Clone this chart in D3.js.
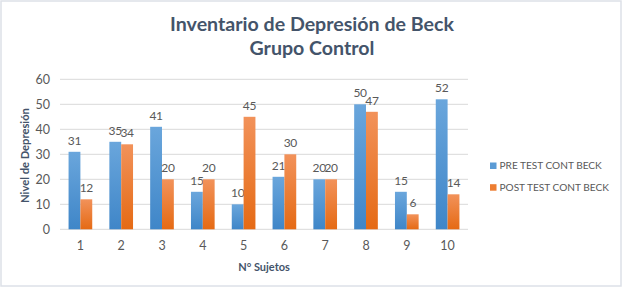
<!DOCTYPE html>
<html>
<head>
<meta charset="utf-8">
<script src="https://cdn.jsdelivr.net/npm/d3@7"></script>
<style>
  body { margin: 0; background: #fff; }
  text { font-family: Lato, "Liberation Sans", sans-serif; }
</style>
</head>
<body>
<svg id="chart"></svg>
<script>
// data
var sujetos = ['1', '2', '3', '4', '5', '6', '7', '8', '9', '10']
var preTest = [31, 35, 41, 15, 10, 21, 20, 50, 15, 52]
var postTest = [12, 34, 20, 20, 45, 30, 20, 47, 6, 14]
var seriesNames = ['PRE TEST CONT BECK', 'POST TEST CONT BECK']
var yTicks = [0, 10, 20, 30, 40, 50, 60]

var width = 623, height = 288
var plot = {left: 60, right: 468, top: 79.3, bottom: 229.3}

var svg = d3.select('#chart').attr('width', width).attr('height', height)

// gradients like the office-style bars
var defs = svg.append('defs')
var grads = [
  {id: 'gBlue', top: '#6aa6dc', bot: '#3f86c8'},
  {id: 'gOrange', top: '#f2925a', bot: '#e56a14'}
]
grads.forEach(g => {
  var lg = defs.append('linearGradient').attr('id', g.id)
    .attr('x1', 0).attr('y1', 0).attr('x2', 0).attr('y2', 1)
  lg.append('stop').attr('offset', '0%').attr('stop-color', g.top)
  lg.append('stop').attr('offset', '100%').attr('stop-color', g.bot)
})

// frame
svg.append('rect')
  .attr('x', 1).attr('y', 1).attr('width', width - 3).attr('height', height - 3)
  .attr('fill', '#fff').attr('stroke', '#dde1e8').attr('stroke-width', 1.5)

var x = d3.scaleBand().domain(sujetos)
  .range([plot.left, plot.right])
  .paddingInner(0.42).paddingOuter(0.21)
var xs = d3.scaleBand().domain([0, 1]).range([0, x.bandwidth()])
var y = d3.scaleLinear().domain([0, 60]).range([plot.bottom, plot.top])

// grid lines
svg.append('g')
  .selectAll('line').data(yTicks).join('line')
  .attr('x1', plot.left).attr('x2', plot.right)
  .attr('y1', d => y(d)).attr('y2', d => y(d))
  .attr('stroke', '#d9d9d9').attr('stroke-width', 1)

// y axis labels
var yAxis = svg.append('g')
  .attr('transform', 'translate(' + (plot.left - 10) + ',0)')
  .call(d3.axisLeft(y).tickValues(yTicks).tickSize(0).tickPadding(0))
yAxis.select('.domain').remove()
yAxis.selectAll('text').attr('fill', '#595959').style('font-size', '12.5px')

// x axis labels
var xAxis = svg.append('g')
  .attr('transform', 'translate(0,' + (plot.bottom + 12) + ')')
  .call(d3.axisBottom(x).tickSize(0).tickPadding(0))
xAxis.select('.domain').remove()
xAxis.selectAll('text').attr('fill', '#595959').style('font-size', '12.5px')

// bars
var series = [preTest, postTest]
var fills = ['url(#gBlue)', 'url(#gOrange)']
series.forEach((vals, si) => {
  var g = svg.append('g')
  g.selectAll('rect').data(vals).join('rect')
    .attr('x', (d, i) => x(sujetos[i]) + xs(si))
    .attr('width', xs.bandwidth())
    .attr('y', d => y(d))
    .attr('height', d => y(0) - y(d))
    .attr('fill', fills[si])
  g.selectAll('text').data(vals).join('text')
    .attr('x', (d, i) => x(sujetos[i]) + xs(si) + xs.bandwidth() / 2)
    .attr('y', d => y(d) - 7)
    .attr('text-anchor', 'middle')
    .attr('fill', '#595959')
    .style('font-size', '12px')
    .style('letter-spacing', '-0.3px')
    .text(d => d)
})

// title
var title = svg.append('text')
  .attr('x', 312).attr('text-anchor', 'middle')
  .attr('fill', '#44546a').style('font-size', '19.6px').style('font-weight', 'bold')
title.append('tspan').attr('x', 312).attr('y', 31).text('Inventario de Depresión de Beck')
title.append('tspan').attr('x', 312).attr('y', 55).text('Grupo Control')

// axis titles
svg.append('text')
  .attr('x', (plot.left + plot.right) / 2).attr('y', 271)
  .attr('text-anchor', 'middle').attr('fill', '#44546a')
  .style('font-size', '11px').style('font-weight', 'bold')
  .text('N° Sujetos')

svg.append('text')
  .attr('transform', 'translate(29,155.5) rotate(-90)')
  .attr('text-anchor', 'middle').attr('fill', '#44546a')
  .style('font-size', '11.2px').style('font-weight', 'bold')
  .text('Nivel de Depresión')

// legend
var legend = svg.append('g').attr('transform', 'translate(490,162.5)')
var legendColors = ['#5b9bd5', '#ed7d31']
seriesNames.forEach((name, i) => {
  var row = legend.append('g').attr('transform', 'translate(0,' + (i * 21.7) + ')')
  row.append('rect').attr('width', 6.5).attr('height', 6.5).attr('fill', legendColors[i])
  row.append('text').attr('x', 9.5).attr('y', 6.5)
    .attr('fill', '#595959').style('font-size', '10.1px')
    .text(name)
})
</script>
</body>
</html>
